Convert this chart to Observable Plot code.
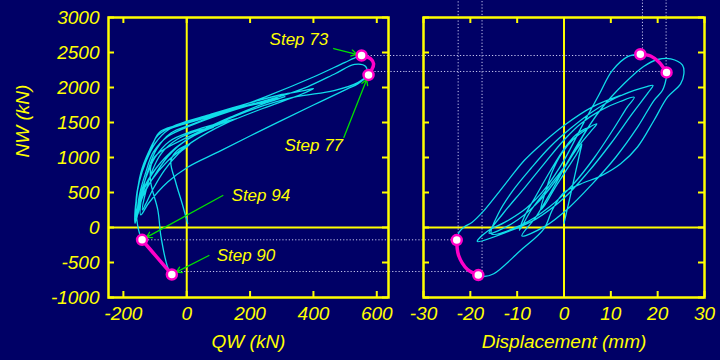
<!DOCTYPE html>
<html><head><meta charset="utf-8">
<script src="https://cdn.jsdelivr.net/npm/d3@7"></script>
<script src="https://cdn.jsdelivr.net/npm/@observablehq/plot@0.6"></script>
<style>
html,body{margin:0;padding:0;background:#000066;}
#wrap{position:relative;width:720px;height:360px;background:#000066;overflow:hidden;}
#wrap svg{position:absolute;top:0;overflow:hidden;}
</style></head><body><div id="wrap"></div>
<script>
// ---- tick labels ----
const qwTicks = [-200, 0, 200, 400, 600];
const dispTicks = [-30, -20, -10, 0, 10, 20, 30];
const nwTicks = [-1000, -500, 0, 500, 1000, 1500, 2000, 2500, 3000];

// ---- hysteresis path, left panel: [QW (kN), NW (kN)] ----
const leftCurve = [
  [3,60],[-15,350],[-35,650],[-50,950],[-30,1100],[10,1190],[-25,1060],[-70,820],[-105,560],[-130,330],[-140,250],
  [-130,500],[-110,800],[-80,1060],[-30,1260],[40,1390],[85,1435],[55,1380],[-5,1240],[-60,1010],[-105,720],[-140,430],[-155,180],
  [-148,420],[-128,720],[-100,1000],[-55,1230],[20,1380],[110,1500],[160,1560],[120,1500],[30,1330],[-50,1080],[-110,760],[-145,420],[-158,120],
  [-150,450],[-130,780],[-105,1080],[-60,1300],[10,1450],[110,1620],[210,1760],[295,1845],[250,1780],[150,1600],[50,1390],[-30,1150],[-95,860],[-140,520],[-160,150],
  [-158,420],[-145,780],[-120,1080],[-90,1320],[-30,1470],[70,1610],[190,1770],[300,1900],[370,1955],[400,1985],[360,1900],[240,1700],[120,1480],[20,1230],[-60,950],[-115,650],[-150,350],[-163,60],
  [-162,300],[-150,650],[-128,950],[-100,1200],[-60,1390],[10,1500],[124,1660],[250,1870],[400,2150],[500,2360],[540,2440],[552,2457],
  [581,2410],[590,2338],[583,2243],[574,2180],
  [540,2050],[507,1981],[400,1750],[250,1420],[100,1080],[3,861],[-60,650],[-120,350],[-145,180],
  [-140,500],[-120,850],[-95,1120],[-50,1350],[20,1480],[150,1690],[300,1880],[381,2010],[470,2200],[530,2330],[565,2300],[568,2180],[540,2070],[465,1957],[339,1861],[213,1695],[108,1505],[3,1290],[-102,1004],[-115,700],[-91,243],[-81,-138],[-60,-567],[-47,-671],
  [-95,-420],[-141,-176],
  [-155,30],[-160,380],[-150,660],[-130,930],[-107,1195],[-86,1362],[-34,1457],[19,1529],[124,1671],[271,1814],[310,1870]
];

// ---- hysteresis path, right panel: [Displacement (mm), NW (kN)] ----
const rightCurve = [
  [0,60],[1,350],[2,650],[3,950],[3.5,1100],[3.8,1190],[2.8,1060],[0.5,820],[-2,560],[-4,330],[-5,250],
  [-4,500],[-2.5,800],[-0.5,1060],[2,1260],[4.5,1390],[7,1480],[5.8,1380],[3,1150],[0,860],[-3.5,560],[-7,250],[-9.5,-40],
  [-8.5,150],[-6,450],[-3,800],[0,1120],[2.5,1320],[5,1420],[4,1300],[1.5,1000],[-2,650],[-6,330],[-11,60],[-16,-80],
  [-13,200],[-8.5,560],[-4,930],[0,1250],[3.5,1480],[8,1680],[12,1800],[15,1860],[13.5,1720],[10.5,1400],[6.5,1000],[2,620],[-3,300],[-9,40],[-15.5,-90],
  [-14,200],[-11,520],[-7,850],[-3,1150],[1.5,1420],[6,1650],[11,1850],[15,1960],[17.5,2010],[19,2030],[18,1930],[14.5,1620],[10,1200],[5,780],[0,420],[-6,120],[-12,-60],[-18.5,-200],
  [-16.5,-60],[-12.5,80],[-8,280],[-4,560],[0,960],[4,1470],[7.5,1900],[10.3,2240],[13.6,2440],[16.3,2475],
  [18.5,2450],[20.3,2360],[21.9,2215],
  [21.8,2124],[21,1957],[19.2,1814],[15.7,1433],[11,1000],[6,620],[1,280],[-4,20],[-9,-120],
  [-6,150],[-2,600],[3,1200],[8,1700],[12.8,2053],[17,2300],[20,2400],[22.8,2410],[25.3,2320],[25.6,2196],[24.9,2053],[22.1,1861],[19.2,1529],[15.7,1150],[12.1,910],[8,740],[3.5,620],[0,500],[-2.5,250],[-4.3,-19],[-9.3,-329],[-15,-661],[-17.1,-700],[-18.3,-680],
  [-20.6,-600],[-22.5,-400],[-22.9,-180],
  [-22.4,-67],[-21.4,4],[-19.6,76],[-17.4,219],[-14.2,481],[-11.4,719],[-8.5,957],[-5,1180],[0,1457],[6,1720],[12.1,1886]
];

// ---- highlighted segments (Step 73 -> 77, Step 90 -> 94): [x, NW, segment] ----
const leftHighlight = [[552,2457,0],[581,2410,0],[590,2338,0],[583,2243,0],[574,2180,0],[-47,-671,1],[-95,-420,1],[-141,-176,1]];
const rightHighlight = [[16.3,2475,0],[18.5,2450,0],[20.3,2360,0],[21.9,2215,0],[-18.3,-680,1],[-20.6,-600,1],[-22.5,-400,1],[-22.9,-180,1]];

// ---- step points ----
const stepNames = ["Step 73", "Step 77", "Step 94", "Step 90"];
const stepQW = [552, 574, -141, -47];
const stepNWLeft = [2457, 2180, -176, -671];
const stepDisp = [16.3, 21.9, -22.9, -18.3];
const stepNWRight = [2475, 2215, -180, -680];

// ---- guide lines (dotted) ----
const guideNW = [2457, 2229, -176, -629];
const guideQW = [552, 574, -141, -47];
const guideDisp = [16.75, 21.8, -22.6, -17.5];

// ---- annotations ----
const labelQW = [354, 401, 234, 187];
const labelNW = [2686, 1171, 457, -400];
const arrowQW = [464, 496, 114, 70];
const arrowNW = [2557, 1286, 457, -400];

const YEL = "#ffff00", CYAN = "#10dcea", MAG = "#ff00c8", GREEN = "#00e000", GUIDE = "#c8c8f0";
const FONT = "Liberation Sans, Arial, Helvetica, sans-serif";
const H = 360, MT = 17, MB = 63, FH = H - MT - MB;

const leftPath = leftCurve.map(([x, y]) => ({x, y}));
const rightPath = rightCurve.map(([x, y]) => ({x, y}));
const leftMag = leftHighlight.map(([x, y, s]) => ({x, y, s}));
const rightMag = rightHighlight.map(([x, y, s]) => ({x, y, s}));
const steps = stepNames.map((n, i) => ({n, qw: stepQW[i], nwl: stepNWLeft[i], d: stepDisp[i], nwr: stepNWRight[i],
  gy: guideNW[i], gx: guideQW[i], gd: guideDisp[i], lx: labelQW[i], ly: labelNW[i], ax: arrowQW[i], ay: arrowNW[i]}));

const style = {background: "transparent", color: YEL, fontStyle: "italic", fontFamily: FONT, fontSize: "19px", overflow: "hidden"};

function frameTicks(xt, yt, fw) {
  return [
    Plot.tickX(xt, {x: d => d, stroke: YEL, strokeWidth: 2, insetTop: FH - 6}),
    Plot.tickX(xt, {x: d => d, stroke: YEL, strokeWidth: 2, insetBottom: FH - 6}),
    Plot.tickY(yt, {y: d => d, stroke: YEL, strokeWidth: 2, insetRight: fw - 6}),
    Plot.tickY(yt, {y: d => d, stroke: YEL, strokeWidth: 2, insetLeft: fw - 6})
  ];
}

const LW = 405, LML = 108, LMR = 17;
const left = Plot.plot({
  width: LW, height: H, marginLeft: LML, marginRight: LMR, marginTop: MT, marginBottom: MB,
  style,
  x: {domain: [-247, 637], axis: null},
  y: {domain: [-1000, 3000], axis: null},
  marks: [
    Plot.ruleY([0], {stroke: YEL, strokeWidth: 2}),
    Plot.ruleX([0], {stroke: YEL, strokeWidth: 2}),
    ...frameTicks(qwTicks, nwTicks, LW - LML - LMR),
    Plot.axisX({ticks: qwTicks, anchor: "bottom", tickSize: 0, tickPadding: 9, fontSize: 19, tickFormat: d => String(d), label: null}),
    Plot.axisY({ticks: nwTicks, anchor: "left", tickSize: 0, tickPadding: 9, fontSize: 19, tickFormat: d => String(d), label: null}),
    Plot.text(["QW (kN)"], {frameAnchor: "bottom", dy: 50, fontSize: 19, fill: YEL}),
    Plot.text(["NW (kN)"], {frameAnchor: "left", dx: -86, rotate: -90, fontSize: 19, fill: YEL}),
    Plot.ruleY(steps, {y: "gy", x1: "gx", x2: () => 2000, stroke: GUIDE, strokeWidth: 1, strokeDasharray: "1.2,2"}),
    Plot.line(leftPath, {x: "x", y: "y", stroke: CYAN, strokeWidth: 1.3, curve: "catmull-rom"}),
    Plot.line(leftMag, {x: "x", y: "y", z: "s", stroke: MAG, strokeWidth: 3.5, curve: "catmull-rom"}),
    Plot.arrow(steps, {x1: "ax", y1: "ay", x2: "qw", y2: "nwl", stroke: GREEN, strokeWidth: 1.3, headLength: 7, insetEnd: 5}),
    Plot.dot(steps, {x: "qw", y: "nwl", r: 5, fill: "white", stroke: MAG, strokeWidth: 2.5}),
    Plot.text(steps, {x: "lx", y: "ly", text: "n", fill: YEL, fontSize: 17}),
    Plot.frame({stroke: YEL, strokeWidth: 2.5})
  ]
});

const RW = 315, RML = 18, RMR = 16;
const right = Plot.plot({
  width: RW, height: H, marginLeft: RML, marginRight: RMR, marginTop: MT, marginBottom: MB,
  style,
  x: {domain: [-30, 30], axis: null},
  y: {domain: [-1000, 3000], axis: null},
  marks: [
    Plot.ruleY([0], {stroke: YEL, strokeWidth: 2}),
    Plot.ruleX([0], {stroke: YEL, strokeWidth: 2}),
    ...frameTicks(dispTicks, nwTicks, RW - RML - RMR),
    Plot.axisX({ticks: dispTicks, anchor: "bottom", tickSize: 0, tickPadding: 9, fontSize: 19, tickFormat: d => String(d), label: null}),
    Plot.text(["Displacement (mm)"], {frameAnchor: "bottom", dy: 50, fontSize: 19, fill: YEL}),
    Plot.ruleY(steps, {y: "gy", x1: () => -100, x2: "gd", stroke: GUIDE, strokeWidth: 1, strokeDasharray: "1.2,2"}),
    Plot.ruleX(steps, {x: "gd", y1: "gy", y2: () => 6000, stroke: GUIDE, strokeWidth: 1, strokeDasharray: "1.2,2"}),
    Plot.line(rightPath, {x: "x", y: "y", stroke: CYAN, strokeWidth: 1.3, curve: "catmull-rom"}),
    Plot.line(rightMag, {x: "x", y: "y", z: "s", stroke: MAG, strokeWidth: 3.5, curve: "catmull-rom"}),
    Plot.dot(steps, {x: "d", y: "nwr", r: 5, fill: "white", stroke: MAG, strokeWidth: 2.5}),
    Plot.frame({stroke: YEL, strokeWidth: 2.5})
  ]
});

const wrap = document.getElementById("wrap");
left.style.left = "0px";
right.style.left = LW + "px";
wrap.appendChild(left);
wrap.appendChild(right);
</script></body></html>
